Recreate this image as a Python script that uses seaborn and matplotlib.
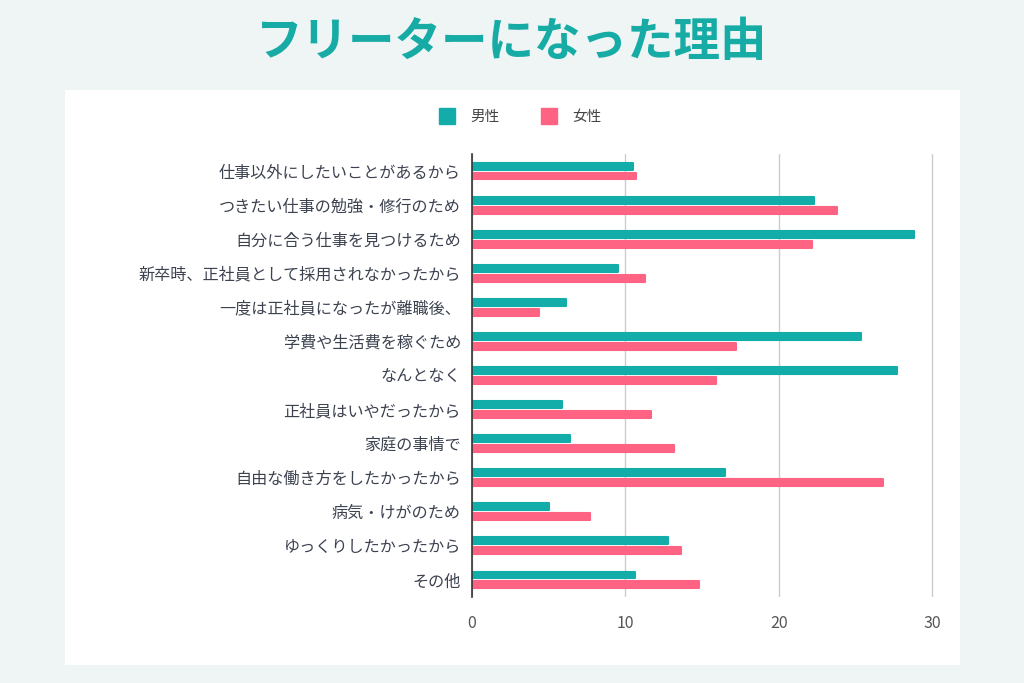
import pandas as pd
import matplotlib.pyplot as plt
import seaborn as sns
from matplotlib.patches import Rectangle
from matplotlib.lines import Line2D

# data
reasons = [
    '仕事以外にしたいことがあるから',
    'つきたい仕事の勉強・修行のため',
    '自分に合う仕事を見つけるため',
    '新卒時、正社員として採用されなかったから',
    '一度は正社員になったが離職後、',
    '学費や生活費を稼ぐため',
    'なんとなく',
    '正社員はいやだったから',
    '家庭の事情で',
    '自由な働き方をしたかったから',
    '病気・けがのため',
    'ゆっくりしたかったから',
    'その他',
]
male = [10.5, 22.3, 28.8, 9.5, 6.1, 25.4, 27.7, 5.9, 6.4, 16.5, 5.0, 12.8, 10.6]
female = [10.7, 23.8, 22.2, 11.3, 4.4, 17.2, 15.9, 11.7, 13.2, 26.8, 7.7, 13.6, 14.8]
groups = ['男性', '女性']
colors = ['#12ada8', '#fe6383']

df = pd.DataFrame({
    'reason': reasons * 2,
    'value': male + female,
    'sex': [groups[0]] * len(reasons) + [groups[1]] * len(reasons),
})

sns.set_theme(style='white')
plt.rcParams['font.family'] = ['Noto Sans CJK JP', 'DejaVu Sans']

fig = plt.figure(figsize=(10.24, 6.83), dpi=100, facecolor='#eff5f5')

# white panel behind the chart
fig.patches.append(Rectangle((65 / 1024, 18 / 683), 895 / 1024, 575 / 683,
                             transform=fig.transFigure, facecolor='white',
                             edgecolor='none', zorder=-1))

# x range a bit past 30 so the last grid line is not clipped
ax = fig.add_axes([472 / 1024, 86 / 683, 465 / 1024, 443 / 683])
ax.set_facecolor('none')
ax.set_zorder(1)

sns.barplot(data=df, y='reason', x='value', hue='sex', order=reasons,
            hue_order=groups, palette=colors, saturation=1, orient='h',
            width=0.58, gap=0.3, legend=False, ax=ax)

for bar in ax.patches:
    bar.set_edgecolor(bar.get_facecolor())
    bar.set_linewidth(1.5)
    bar.set_joinstyle('round')

ax.set_xlim(0, 30 * 465 / 460)
ax.set_ylim(len(reasons) - 0.5, -0.5)
ax.set_xticks([0, 10, 20, 30])
ax.xaxis.grid(True, color='#cccccc', linewidth=1)
ax.set_axisbelow(True)
for side in ['top', 'right', 'bottom']:
    ax.spines[side].set_visible(False)
ax.spines['left'].set_color('#333333')
ax.spines['left'].set_linewidth(1.2)
ax.spines['left'].set_zorder(5)
ax.set_xlabel('')
ax.set_ylabel('')
ax.tick_params(axis='y', length=0, pad=8, labelsize=11.6, labelcolor='#3c4250')
ax.tick_params(axis='x', length=0, pad=13, labelsize=11.5, labelcolor='#555555')

# legend with square markers
handles = [Line2D([], [], marker='s', linestyle='', markersize=11,
                  markerfacecolor=c, markeredgecolor=c) for c in colors]
fig.legend(handles, groups, loc='center', bbox_to_anchor=(0.505, 1 - 117 / 683),
           ncol=2, frameon=False, fontsize=10.5, handletextpad=0.6,
           columnspacing=2.4, labelcolor='#444444')

fig.text(0.5, 1 - 42 / 683, 'フリーターになった理由', ha='center', va='center',
         fontsize=33.5, fontweight='bold', color='#16aba5')

plt.savefig('out.png', dpi=100, facecolor=fig.get_facecolor())
